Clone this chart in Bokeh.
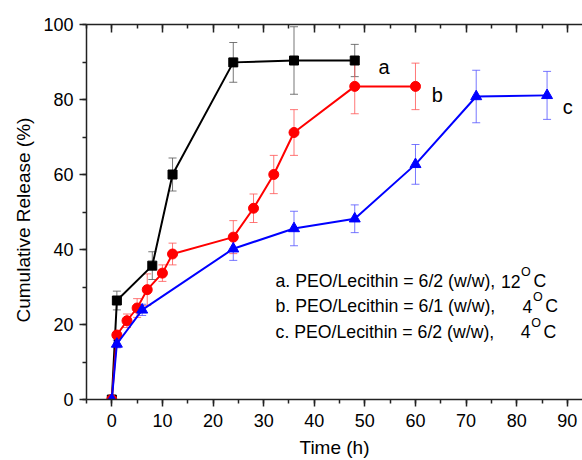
from bokeh.plotting import figure
from bokeh.models import (Label, LinearAxis, SingleIntervalTicker, Whisker, TeeHead,
                          ColumnDataSource, Range1d, Title)
from bokeh.embed import file_html
from bokeh.resources import INLINE

# ---- data ----
t_a = [0, 1, 8, 12, 24, 36, 48]
rel_a = [0, 26.4, 35.7, 60.0, 89.9, 90.4, 90.4]
err_a = [0, 2.5, 3.7, 4.4, 5.3, 9.0, 4.3]

t_b = [0, 1, 3, 5, 7, 10, 12, 24, 28, 32, 36, 48, 60]
rel_b = [0, 17.2, 21.0, 24.4, 29.3, 33.7, 38.8, 43.3, 51.0, 60.0, 71.2, 83.5, 83.5]
err_b = [0, 1.0, 1.8, 2.5, 4.2, 2.2, 2.9, 4.4, 3.8, 5.1, 6.1, 7.3, 6.2]

t_c = [0, 1, 6, 24, 36, 48, 60, 72, 86]
rel_c = [0, 14.8, 23.9, 40.2, 45.6, 48.2, 62.7, 80.8, 81.1]
err_c = [0, 1.0, 1.5, 3.1, 4.6, 3.7, 5.3, 7.0, 6.4]

series_names = ["a", "b", "c"]
legend_prefix = ["a. PEO/Lecithin = 6/2 (w/w),",
                 "b. PEO/Lecithin = 6/1 (w/w),",
                 "c. PEO/Lecithin = 6/2 (w/w),"]
legend_temp = ["12", "4", "4"]

x_title = "Time (h)"
y_title = "Cumulative Release (%)"

FONT = "Liberation Sans"

p = figure(width=582, height=460, x_range=Range1d(-5, 93), y_range=Range1d(0, 100),
           output_backend="svg", toolbar_location=None,
           min_border_left=86, min_border_right=0, min_border_top=24, min_border_bottom=61)
p.outline_line_color = None
p.grid.visible = False
p.background_fill_color = "white"
p.border_fill_color = "white"

AX = "#222222"
for ax in (p.xaxis[0], p.yaxis[0]):
    ax.axis_line_color = AX
    ax.axis_line_width = 1.5
    ax.major_tick_line_color = AX
    ax.minor_tick_line_color = AX
    ax.major_tick_line_width = 1.5
    ax.minor_tick_line_width = 1.5
    ax.major_tick_in = 0
    ax.major_tick_out = 7
    ax.minor_tick_in = 0
    ax.minor_tick_out = 4
    ax.major_label_text_font = FONT
    ax.major_label_text_font_size = "18px"
    ax.major_label_text_color = "black"

p.xaxis.ticker = SingleIntervalTicker(interval=10, num_minor_ticks=2)
p.yaxis.ticker = SingleIntervalTicker(interval=20, num_minor_ticks=2)
p.xaxis.major_label_standoff = 7
p.yaxis.major_label_standoff = 6

p.xaxis.axis_label = x_title
p.xaxis.axis_label_text_font = FONT
p.xaxis.axis_label_text_font_size = "19px"
p.xaxis.axis_label_text_font_style = "normal"
p.xaxis.axis_label_text_color = "black"
p.xaxis.axis_label_standoff = 7

top = LinearAxis(ticker=SingleIntervalTicker(interval=10, num_minor_ticks=2),
                 major_label_text_color=None, major_label_text_font_size="8px",
                 major_label_standoff=0,
                 major_tick_in=8, major_tick_out=0, minor_tick_in=4, minor_tick_out=0,
                 axis_line_color=AX, axis_line_width=1.5,
                 major_tick_line_color=AX, minor_tick_line_color=AX,
                 major_tick_line_width=1.5, minor_tick_line_width=1.5)
p.add_layout(top, "above")

specs = [
    (t_a, rel_a, err_a, "black", "#555555", "square", 9),
    (t_b, rel_b, err_b, "red", "#ff5555", "circle", 10),
    (t_c, rel_c, err_c, "blue", "#5555ff", "triangle", 11),
]

for t, r, e, col, ecol, marker, size in specs:
    idx = [i for i in range(len(t)) if e[i] > 0]
    src = ColumnDataSource(dict(
        x=[t[i] for i in idx],
        upper=[r[i] + e[i] for i in idx],
        lower=[r[i] - e[i] for i in idx]))
    w = Whisker(source=src, base="x", upper="upper", lower="lower",
                line_color=ecol, line_alpha=0.8, line_width=1,
                upper_head=TeeHead(size=8, line_color=ecol, line_alpha=0.8, line_width=1),
                lower_head=TeeHead(size=8, line_color=ecol, line_alpha=0.8, line_width=1))
    p.add_layout(w)
    p.line(t, r, line_color=col, line_width=2)
    p.scatter(t, r, marker=marker, size=size, fill_color=col, line_color=col)

# series letters
letter_pos = [(52.7, 88.6), (63.2, 81.3), (89.1, 78.1)]
for name, (lx, ly) in zip(series_names, letter_pos):
    p.add_layout(Label(x=lx, y=ly, text=name, text_font=FONT, text_font_size="20px",
                       text_color="black", text_baseline="alphabetic"))

# legend text block
LF = "17.7px"
rows_y = [31.47, 24.88, 18.13]
num_right = [80.77, 83.1, 82.75]
for pre, tmp, ry, nr in zip(legend_prefix, legend_temp, rows_y, num_right):
    p.add_layout(Label(x=32.35, y=ry, text=pre, text_font=FONT, text_font_size=LF,
                       text_color="black", text_baseline="alphabetic", text_align="left"))
    p.add_layout(Label(x=nr, y=ry, text=tmp, text_font=FONT, text_font_size=LF,
                       text_color="black", text_baseline="alphabetic", text_align="right"))
    p.add_layout(Label(x=nr + 0.1, y=ry, y_offset=9, text="O", text_font=FONT,
                       text_font_size="12.5px", text_color="black",
                       text_baseline="alphabetic", text_align="left"))
    p.add_layout(Label(x=nr + 2.55, y=ry, text="C", text_font=FONT, text_font_size=LF,
                       text_color="black", text_baseline="alphabetic", text_align="left"))

# y axis title
p.add_layout(Title(text=y_title, align="left", offset=77, standoff=13,
                   text_font=FONT, text_font_size="19px", text_font_style="normal",
                   text_color="black"), "left")

open("out.html", "w").write(file_html(p, INLINE))
